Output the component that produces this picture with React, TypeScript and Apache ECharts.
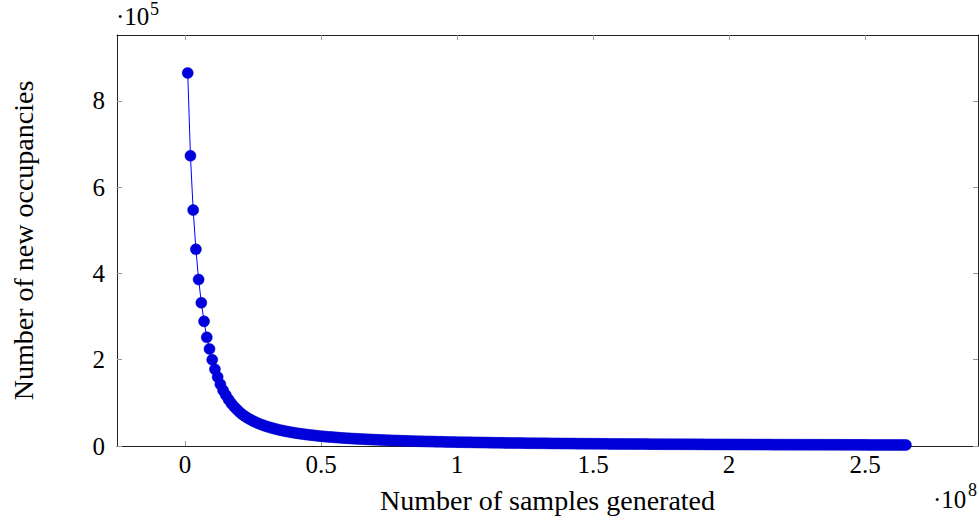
import React, { useEffect, useRef } from "react";
import * as echarts from "echarts";

// Sample counts: one point every 1,000,000 generated samples (1 .. 265 million)
const sampleStep = 1000000;
const newOccupancies = [
  865000, 673000, 547000, 456000, 386000, 332000, 289000, 252000, 225000, 200000,
  178000, 160000, 143000, 129000, 118000, 108000, 99000, 91500, 85000, 79000,
  73500, 69000, 65000, 61300, 58000, 55100, 52300, 49800, 47500, 45400,
  43400, 41600, 39900, 38300, 36800, 35500, 34200, 33000, 31800, 30800,
  29800, 28800, 27900, 27100, 26300, 25500, 24800, 24100, 23400, 22800,
  22200, 21600, 21100, 20600, 20100, 19600, 19100, 18700, 18200, 17800,
  17400, 17000, 16700, 16300, 16000, 15700, 15400, 15100, 14800, 14500,
  14250, 14000, 13750, 13500, 13250, 13000, 12750, 12550, 12300, 12100,
  11900, 11700, 11500, 11300, 11100, 10950, 10800, 10600, 10450, 10300,
  10150, 10000, 9850, 9700, 9600, 9450, 9300, 9200, 9050, 8950,
  8850, 8750, 8650, 8550, 8450, 8350, 8250, 8150, 8050, 7950,
  7850, 7750, 7650, 7550, 7450, 7350, 7250, 7150, 7070, 7000,
  6920, 6850, 6780, 6710, 6640, 6570, 6500, 6430, 6360, 6300,
  6240, 6180, 6120, 6060, 6000, 5940, 5880, 5820, 5750, 5680,
  5630, 5580, 5530, 5480, 5430, 5380, 5330, 5280, 5230, 5190,
  5150, 5100, 5050, 5000, 4960, 4920, 4870, 4830, 4780, 4740,
  4700, 4660, 4630, 4590, 4550, 4510, 4480, 4440, 4400, 4370,
  4340, 4300, 4270, 4240, 4200, 4170, 4140, 4110, 4080, 4050,
  4020, 3990, 3960, 3930, 3900, 3880, 3850, 3820, 3790, 3770,
  3740, 3720, 3690, 3670, 3640, 3620, 3600, 3570, 3540, 3510,
  3490, 3470, 3450, 3420, 3400, 3380, 3360, 3340, 3320, 3300,
  3280, 3260, 3240, 3220, 3200, 3180, 3160, 3140, 3110, 3090,
  3070, 3050, 3040, 3020, 3000, 2980, 2970, 2950, 2930, 2920,
  2900, 2880, 2870, 2850, 2830, 2820, 2800, 2790, 2760, 2740,
  2730, 2710, 2700, 2690, 2670, 2660, 2650, 2630, 2620, 2610,
  2590, 2580, 2570, 2550, 2540, 2530, 2510, 2500, 2490, 2470,
  2460, 2450, 2430, 2420, 2400,
];

const xTickValues = [0, 0.5e8, 1e8, 1.5e8, 2e8, 2.5e8];
const yTickValues = [0, 2e5, 4e5, 6e5, 8e5];
const xTitle = "Number of samples generated";
const yTitle = "Number of new occupancies";

const FONT = "'Liberation Serif', 'DejaVu Serif', serif";

export default function App() {
  const ref = useRef<HTMLDivElement>(null);

  useEffect(() => {
    if (!ref.current) return;
    const chart = echarts.init(ref.current, null, { renderer: "svg" });
    const data = newOccupancies.map((v, i) => [(i + 1) * sampleStep, v]);

    const tickStyle = { color: "#9a9a9a", width: 1 };
    const lineStyle = { color: "#222", width: 1 };
    const xMin = -0.25e8;
    const xMax = 2.915e8;
    const yMin = 0;
    const yMax = 9.53e5;

    chart.setOption({
      animation: false,
      backgroundColor: "#fff",
      grid: { left: 117, right: 1, top: 35, bottom: 74, containLabel: false },
      xAxis: [
        {
          type: "value",
          min: xMin,
          max: xMax,
          position: "bottom",
          axisLine: { show: true, onZero: false, lineStyle },
          axisTick: { show: true, inside: true, length: 5, customValues: xTickValues, lineStyle: tickStyle },
          axisLabel: {
            customValues: xTickValues,
            formatter: (v: number) => String(v / 1e8),
            color: "#000",
            fontFamily: FONT,
            fontSize: 25,
            margin: 6,
          },
          splitLine: { show: false },
          name: xTitle,
          nameLocation: "middle",
          nameGap: 40,
          nameTextStyle: { color: "#000", fontFamily: FONT, fontSize: 28 },
        },
        {
          type: "value",
          min: xMin,
          max: xMax,
          position: "top",
          axisLine: { show: true, onZero: false, lineStyle },
          axisTick: { show: true, inside: true, length: 5, customValues: xTickValues, lineStyle: tickStyle },
          axisLabel: { show: false },
          splitLine: { show: false },
        },
      ],
      yAxis: [
        {
          type: "value",
          min: yMin,
          max: yMax,
          position: "left",
          axisLine: { show: true, onZero: false, lineStyle },
          axisTick: { show: true, inside: true, length: 5, customValues: yTickValues, lineStyle: tickStyle },
          axisLabel: {
            customValues: yTickValues,
            formatter: (v: number) => String(v / 1e5),
            color: "#000",
            fontFamily: FONT,
            fontSize: 25,
            margin: 12,
          },
          splitLine: { show: false },
          name: yTitle,
          nameLocation: "middle",
          nameGap: 80,
          nameTextStyle: { color: "#000", fontFamily: FONT, fontSize: 28 },
        },
        {
          type: "value",
          min: yMin,
          max: yMax,
          position: "right",
          axisLine: { show: true, onZero: false, lineStyle },
          axisTick: { show: true, inside: true, length: 5, customValues: yTickValues, lineStyle: tickStyle },
          axisLabel: { show: false },
          splitLine: { show: false },
        },
      ],
      graphic: [
        { type: "text", left: 116, top: 4, style: { text: "·10", fontFamily: FONT, fontSize: 25, fill: "#000" } },
        { type: "text", left: 150, top: 0, style: { text: "5", fontFamily: FONT, fontSize: 18, fill: "#000" } },
        { type: "text", left: 933, top: 487, style: { text: "·10", fontFamily: FONT, fontSize: 25, fill: "#000" } },
        { type: "text", left: 968, top: 481, style: { text: "8", fontFamily: FONT, fontSize: 18, fill: "#000" } },
      ],
      series: [
        {
          type: "line",
          xAxisIndex: 0,
          yAxisIndex: 0,
          data,
          symbol: "circle",
          symbolSize: 11,
          showAllSymbol: true,
          itemStyle: { color: "#0000dd", borderColor: "#0000c8", borderWidth: 0.5 },
          lineStyle: { color: "#0000ff", width: 1 },
          clip: false,
          emphasis: { disabled: true },
        },
      ],
    });

    return () => chart.dispose();
  }, []);

  return (
    <div
      ref={ref}
      style={{ position: "fixed", left: 0, top: 0, width: 979, height: 520, background: "#fff" }}
    />
  );
}
